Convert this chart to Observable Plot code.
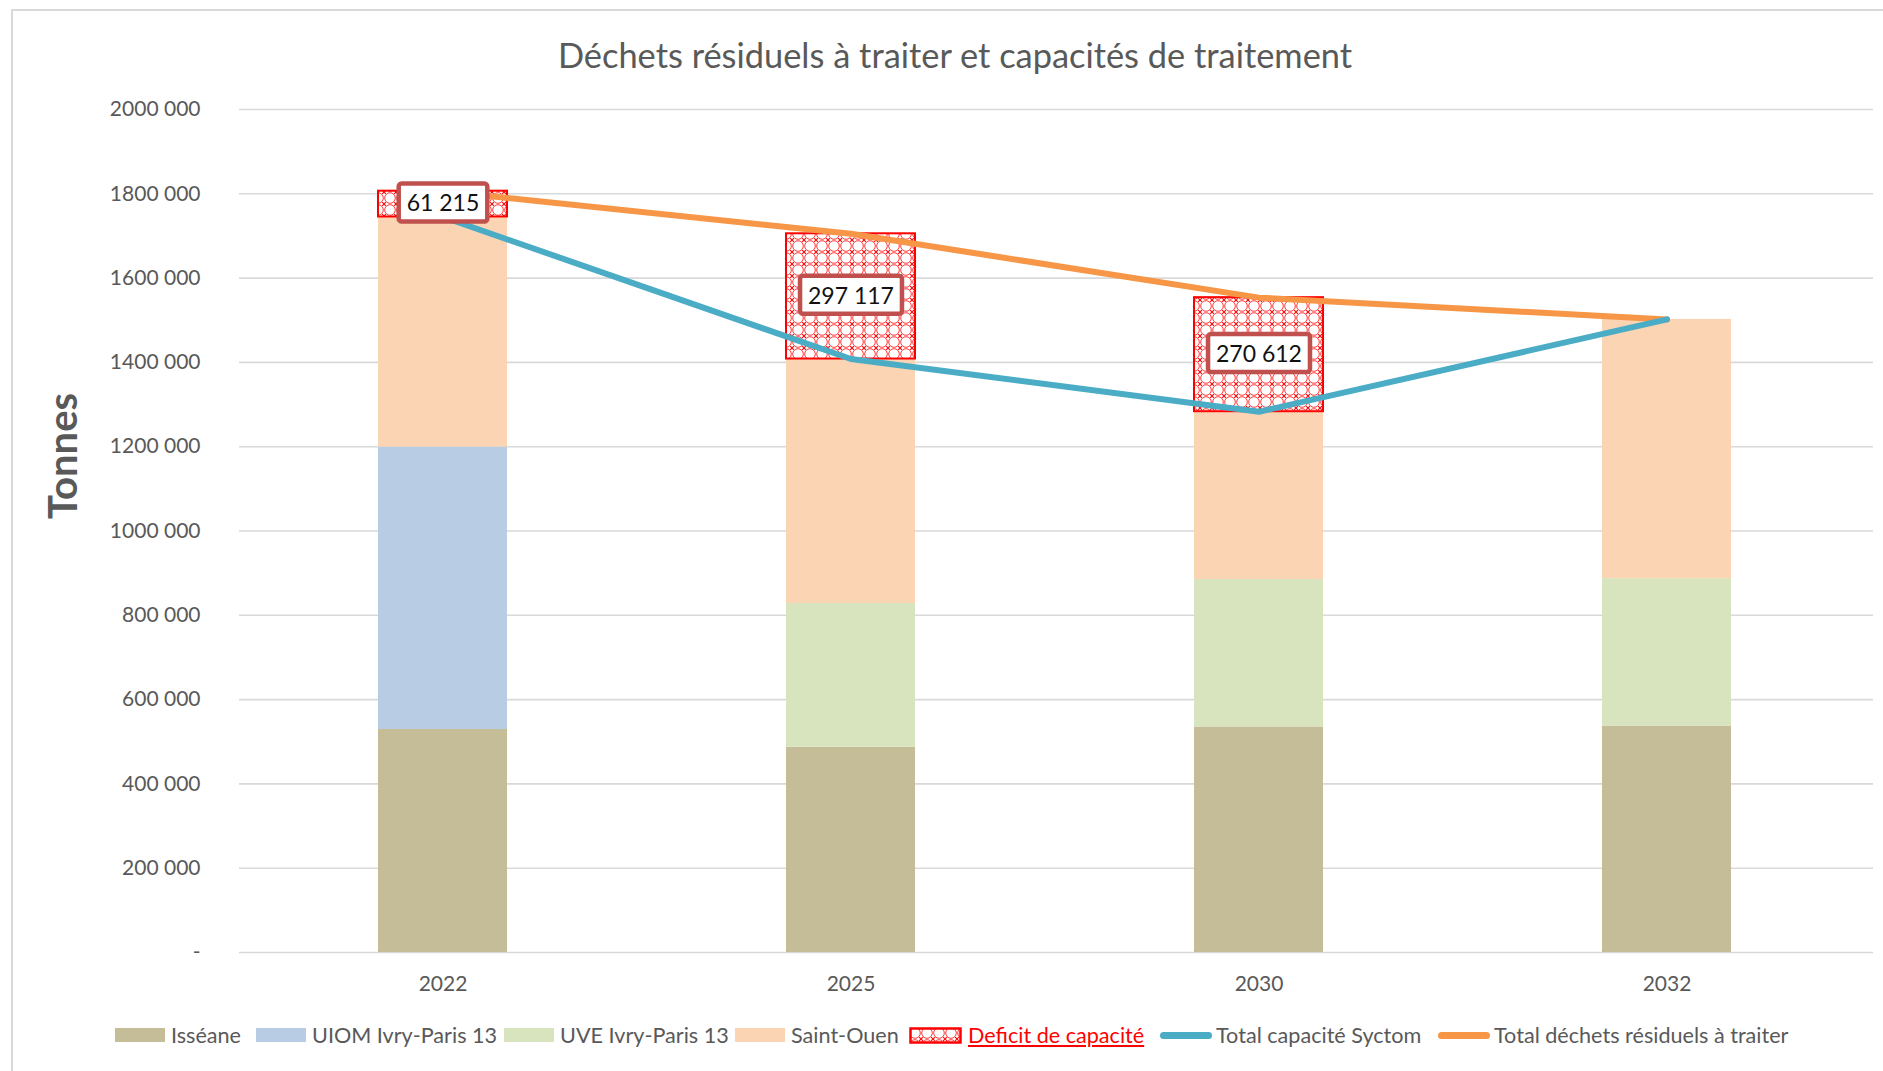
<!DOCTYPE html>
<html><head><meta charset="utf-8">
<script src="https://cdn.jsdelivr.net/npm/d3@7"></script>
<script src="https://cdn.jsdelivr.net/npm/@observablehq/plot@0.6"></script>
<style>
html,body{margin:0;padding:0;background:#fff;overflow:hidden;}
body{width:1883px;height:1071px;position:relative;font-family:Lato,"Open Sans",sans-serif;}
#frame{position:absolute;left:11px;top:9px;width:1920px;height:1120px;border:2px solid #D9D9D9;box-sizing:border-box;}
#title{position:absolute;left:0;width:1910px;top:34px;text-align:center;font-size:34.4px;color:#595959;line-height:42px;}
#chart{position:absolute;left:0;top:0;}
#ytitle{position:absolute;left:62px;top:456px;transform:translate(-50%,-50%) rotate(-90deg);font-size:40px;font-weight:bold;color:#595959;white-space:nowrap;}
.lg{position:absolute;top:1021px;height:28px;display:flex;align-items:center;font-size:21.6px;color:#595959;white-space:nowrap;}
.sw{width:50px;height:14px;margin-right:6px;}
.ln{width:52px;height:7px;border-radius:4px;margin-right:4px;}
</style></head><body>
<div id="frame"></div>
<div id="title">Déchets résiduels à traiter et capacités de traitement</div>
<div id="chart"></div>
<div id="ytitle">Tonnes</div>
<div id="legend"></div>
<script>
// ---- data ----
const years = ["2022", "2025", "2030", "2032"];
const seriesNames = ["Isséane", "UIOM Ivry-Paris 13", "UVE Ivry-Paris 13", "Saint-Ouen"];
const seriesColors = ["#C4BD97", "#B8CCE4", "#D7E4BD", "#FBD4B4"];
const isseane   = [529000, 487000, 535000, 537000];
const uiomIvry  = [670000, 0, 0, 0];
const uveIvry   = [0, 341000, 350000, 350000];
const saintOuen = [546000, 580000, 398000, 615000];
const capaciteSyctom = [1745000, 1408000, 1283000, 1502000];
const totalDechets   = [1806215, 1705117, 1553612, 1502000];
const deficit        = [61215, 297117, 270612, 0];
const yTicks      = [0, 200000, 400000, 600000, 800000, 1000000, 1200000, 1400000, 1600000, 1800000, 2000000];
const yTickLabels = ["-", "200 000", "400 000", "600 000", "800 000", "1000 000", "1200 000", "1400 000", "1600 000", "1800 000", "2000 000"];
const lineNames = ["Total capacité Syctom", "Total déchets résiduels à traiter"];
const lineColors = ["#4BACC6", "#F79646"];
const deficitName = "Deficit de capacité";

// ---- tables ----
const seriesValues = [isseane, uiomIvry, uveIvry, saintOuen];
const stackData = [];
years.forEach((y, i) => seriesNames.forEach((s, j) => stackData.push({year: y, series: s, value: seriesValues[j][i]})));
const defData = years.map((y, i) => ({year: y, capacity: capaciteSyctom[i], total: totalDechets[i], deficit: deficit[i]})).filter(d => d.deficit > 0);
const capData = years.map((y, i) => ({year: y, value: capaciteSyctom[i]}));
const totData = years.map((y, i) => ({year: y, value: totalDechets[i]}));
const fmt = v => d3.format(",")(v).replace(/,/g, " ");

const chart = Plot.plot({
  width: 1883, height: 1000,
  marginLeft: 239, marginRight: 10, marginTop: 109, marginBottom: 48,
  style: {fontFamily: "Lato, 'Open Sans', sans-serif", fontSize: "21px", color: "#595959", background: "transparent", overflow: "visible"},
  x: {domain: years, paddingInner: 0.684, paddingOuter: 0.342, align: 0.494, label: null, tickSize: 0, tickPadding: 24},
  y: {domain: [0, 2000000], ticks: yTicks, tickFormat: v => yTickLabels[yTicks.indexOf(v)], label: null, tickSize: 0, tickPadding: 39},
  color: {domain: seriesNames, range: seriesColors},
  marks: [
    Plot.ruleY(yTicks, {stroke: "#D9D9D9", strokeWidth: 1.6}),
    Plot.barY(stackData, {x: "year", y: "value", fill: "series"}),
    Plot.barY(defData, {x: "year", y1: "capacity", y2: "total", fill: "url(#hatch)", stroke: "#FF0000", strokeWidth: 2}),
    Plot.line(totData, {x: "year", y: "value", stroke: lineColors[1], strokeWidth: 6, strokeLinecap: "round", strokeLinejoin: "round"}),
    Plot.line(capData, {x: "year", y: "value", stroke: lineColors[0], strokeWidth: 6, strokeLinecap: "round", strokeLinejoin: "round"}),
    Plot.text(defData, {x: "year", y: d => (d.capacity + d.total) / 2, text: d => fmt(d.deficit), fill: "#111", fontSize: 23, className: "dlabel"})
  ]
});
document.getElementById("chart").appendChild(chart);

// hatch pattern definition
const ns = "http://www.w3.org/2000/svg";
const patternBody = `<rect width="12" height="12" fill="#fff"/>
    <circle cx="6" cy="6" r="5.3" fill="none" stroke="#FF2020" stroke-width="0.9"/>
    <path d="M0,0 L1.8,1.8 M12,0 L10.2,1.8 M0,12 L1.8,10.2 M12,12 L10.2,10.2" stroke="#FF0000" stroke-width="1.1"/>`;
function addPattern(svg, id) {
  const defs = document.createElementNS(ns, "defs");
  defs.innerHTML = `<pattern id="${id}" width="12" height="12" patternUnits="userSpaceOnUse">${patternBody}</pattern>`;
  svg.insertBefore(defs, svg.firstChild);
}
addPattern(chart, "hatch");

// label boxes behind data labels
chart.querySelectorAll("g.dlabel text").forEach(t => {
  const b = t.getBBox();
  const r = document.createElementNS(ns, "rect");
  r.setAttribute("x", b.x - 8); r.setAttribute("y", b.y - 5);
  r.setAttribute("width", b.width + 16); r.setAttribute("height", b.height + 10);
  r.setAttribute("rx", 3);
  r.setAttribute("fill", "#fff"); r.setAttribute("stroke", "#C0504D"); r.setAttribute("stroke-width", 4.5);
  if (t.getAttribute("transform")) r.setAttribute("transform", t.getAttribute("transform"));
  t.parentNode.insertBefore(r, t);
});

// legend
const legend = document.getElementById("legend");
const lefts = [115, 256, 504, 735, 909, 1160, 1438];
function item(left, swatchHTML, label, style) {
  const d = document.createElement("div");
  d.className = "lg"; d.style.left = left + "px";
  d.innerHTML = swatchHTML + `<span style="${style || ""}">${label}</span>`;
  legend.appendChild(d);
}
seriesNames.forEach((s, j) => item(lefts[j], `<div class="sw" style="background:${seriesColors[j]}"></div>`, s));
item(lefts[4], `<svg width="53" height="17" style="margin-right:6px"><defs><pattern id="hatchL" width="12" height="12" patternUnits="userSpaceOnUse">${patternBody}</pattern></defs><rect x="1.5" y="1.5" width="50" height="14" fill="url(#hatchL)" stroke="#FF0000" stroke-width="2.5"/></svg>`, deficitName, "color:#FF0000;text-decoration:underline;");
lineNames.forEach((s, j) => item(lefts[5 + j], `<div class="ln" style="background:${lineColors[j]}"></div>`, s));
</script>
</body></html>
